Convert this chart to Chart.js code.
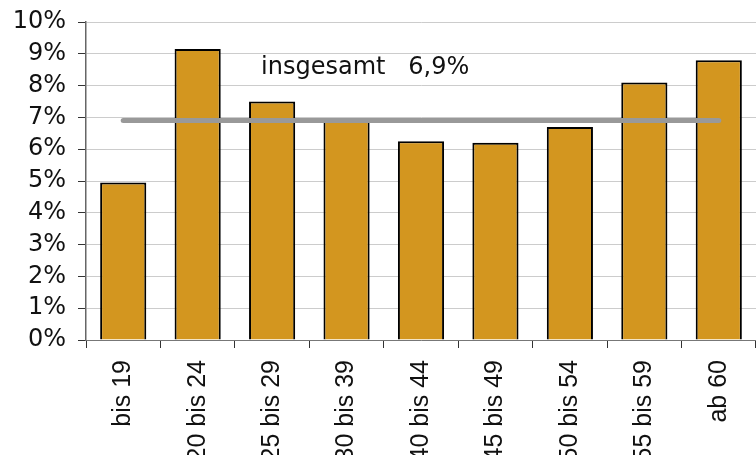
<!DOCTYPE html>
<html>
<head>
  <meta charset="UTF-8">
  <title>Anteil nach Altersgruppen</title>
  <script src="https://cdn.jsdelivr.net/npm/chart.js"></script>
  <style>
    html, body { margin: 0; padding: 0; background: #fff; }
    #wrap { width: 756px; height: 455px; }
  </style>
</head>
<body>
  <div id="wrap"><canvas id="myChart"></canvas></div>
  <script>
    // Altersgruppen und Anteile (%)
    const categories = ['bis 19', '20 bis 24', '25 bis 29', '30 bis 39', '40 bis 44',
                        '45 bis 49', '50 bis 54', '55 bis 59', 'ab 60'];
    const shares = [4.95, 9.15, 7.5, 6.95, 6.25, 6.2, 6.7, 8.1, 8.8];
    const overall = 6.9;
    const overallLabel = 'insgesamt   6,9%';
    const yTicks = [0, 1, 2, 3, 4, 5, 6, 7, 8, 9, 10];

    // Beschriftung "insgesamt" über der Linie
    const overallText = {
      id: 'overallText',
      afterDatasetsDraw(chart) {
        const ctx = chart.ctx;
        const x = chart.scales.x.getPixelForValue(3.25);
        const y = chart.scales.y.getPixelForValue(8.55);
        ctx.save();
        ctx.font = '24px "DejaVu Sans"';
        ctx.fillStyle = '#111';
        ctx.textAlign = 'center';
        ctx.textBaseline = 'middle';
        ctx.fillText(overallLabel, x, y);
        ctx.restore();
      }
    };

    new Chart(document.getElementById('myChart'), {
      data: {
        labels: categories,
        datasets: [
          {
            type: 'line',
            data: categories.map(() => overall),
            borderColor: '#999999',
            borderWidth: 5,
            borderCapStyle: 'round',
            pointRadius: 0,
            order: 0
          },
          {
            type: 'bar',
            data: shares,
            backgroundColor: '#D3961F',
            borderColor: '#000000',
            borderWidth: 2,
            categoryPercentage: 1,
            barPercentage: 0.62,
            order: 1
          }
        ]
      },
      options: {
        responsive: true,
        maintainAspectRatio: false,
        animation: false,
        layout: { padding: { top: 22, right: 0, left: 0, bottom: 0 } },
        plugins: { legend: { display: false }, tooltip: { enabled: false } },
        scales: {
          x: {
            offset: true,
            grid: {
              offset: true,
              drawOnChartArea: false,
              tickLength: 8,
              tickColor: '#333'
            },
            border: { color: '#777', width: 1 },
            ticks: {
              minRotation: 90,
              maxRotation: 90,
              padding: 12,
              color: '#111',
              font: { family: '"Liberation Sans", Arial', size: 25 }
            },
            afterFit(scale) {
              scale.height = 115;
              scale.paddingLeft = 0;
              scale.paddingRight = 0;
            }
          },
          y: {
            min: 0,
            max: 10,
            afterBuildTicks(scale) {
              scale.ticks = yTicks.map(v => ({ value: v }));
            },
            grid: {
              color: '#cccccc',
              tickLength: 8,
              tickColor: '#333'
            },
            border: { color: '#666', width: 1.5 },
            ticks: {
              autoSkip: false,
              padding: 12,
              color: '#111',
              font: { family: '"DejaVu Sans"', size: 24 },
              callback: v => v + '%'
            },
            afterFit(scale) {
              scale.width = 86;
              scale.paddingTop = 0;
              scale.paddingBottom = 0;
            }
          }
        }
      },
      plugins: [overallText]
    });
  </script>
</body>
</html>
